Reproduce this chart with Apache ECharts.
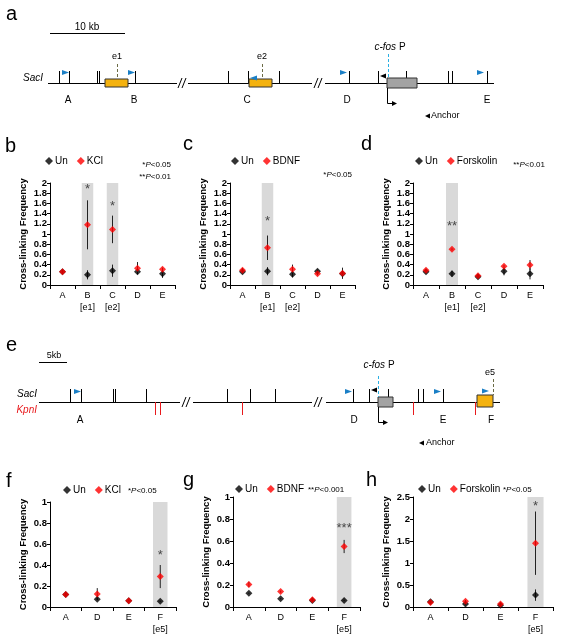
<!DOCTYPE html>
<html><head><meta charset="utf-8">
<script src="https://cdn.jsdelivr.net/npm/echarts@6/dist/echarts.min.js"></script>
<style>html,body{margin:0;padding:0;background:#fff}#c{width:562px;height:640px}</style>
</head><body><div id="c"></div>
<script>
// ---------- DATA ----------
const catsTop = ['A', 'B', 'C', 'D', 'E'];
const subTop = ['', '[e1]', '[e2]', '', ''];
const catsBot = ['A', 'D', 'E', 'F'];
const subBot = ['', '', '', '[e5]'];

// panel b (KCl)
const unB = [0.26, 0.20, 0.28, 0.26, 0.22];
const unErrB = [0.02, 0.09, 0.12, 0.04, 0.08];
const kclB = [0.26, 1.18, 1.09, 0.33, 0.31];
const kclErrB = [0.04, 0.48, 0.27, 0.12, 0.03];
const shadeB = [0, 1, 1, 0, 0];
const starB = ['', '*', '*', '', ''];
const starYB = [null, 1.88, 1.55, null, null];

// panel c (BDNF)
const unC = [0.26, 0.27, 0.21, 0.27, 0.22];
const unErrC = [0.03, 0.08, 0.06, 0.03, 0.04];
const bdnfC = [0.29, 0.73, 0.31, 0.22, 0.23];
const bdnfErrC = [0.04, 0.24, 0.09, 0.03, 0.11];
const shadeC = [0, 1, 0, 0, 0];
const starC = ['', '*', '', '', ''];
const starYC = [null, 1.24, null, null, null];

// panel d (Forskolin)
const unD = [0.26, 0.22, 0.16, 0.27, 0.22];
const unErrD = [0.03, 0.06, 0.03, 0.08, 0.11];
const fskD = [0.29, 0.70, 0.18, 0.37, 0.39];
const fskErrD = [0.02, 0.02, 0.03, 0.02, 0.10];
const shadeD = [0, 1, 0, 0, 0];
const starD = ['', '**', '', '', ''];
const starYD = [null, 1.14, null, null, null];

// panel f (KCl)
const unF = [0.12, 0.075, 0.06, 0.055];
const unErrF = [0.01, 0.01, 0.005, 0.005];
const kclF = [0.12, 0.125, 0.06, 0.29];
const kclErrF = [0.02, 0.055, 0.005, 0.11];
const shadeF = [0, 0, 0, 1];
const starF = ['', '', '', '*'];
const starYF = [null, null, null, 0.49];

// panel g (BDNF)
const unG = [0.125, 0.075, 0.06, 0.06];
const unErrG = [0.005, 0.005, 0.005, 0.005];
const bdnfG = [0.205, 0.14, 0.065, 0.55];
const bdnfErrG = [0.025, 0.01, 0.01, 0.06];
const shadeG = [0, 0, 0, 1];
const starG = ['', '', '', '***'];
const starYG = [null, null, null, 0.71];

// panel h (Forskolin)
const unH = [0.12, 0.07, 0.04, 0.27];
const unErrH = [0.03, 0.03, 0.02, 0.13];
const fskH = [0.10, 0.13, 0.07, 1.45];
const fskErrH = [0.02, 0.03, 0.02, 0.72];
const shadeH = [0, 0, 0, 1];
const starH = ['', '', '', '*'];
const starYH = [null, null, null, 2.28];

// ---------- LAYOUT ----------
const FF = '"Liberation Sans", Arial, sans-serif';
const panels = [
  {cats: catsTop, sub: subTop, un: unB, unErr: unErrB, tr: kclB, trErr: kclErrB, trName: 'KCl', max: 2, interval: 0.2, shade: shadeB, star: starB, starY: starYB,
   grid: {left: 50, top: 183, width: 125, height: 102}, legend: {left: 45, top: 156}},
  {cats: catsTop, sub: subTop, un: unC, unErr: unErrC, tr: bdnfC, trErr: bdnfErrC, trName: 'BDNF', max: 2, interval: 0.2, shade: shadeC, star: starC, starY: starYC,
   grid: {left: 230, top: 183, width: 125, height: 102}, legend: {left: 231, top: 156}},
  {cats: catsTop, sub: subTop, un: unD, unErr: unErrD, tr: fskD, trErr: fskErrD, trName: 'Forskolin', max: 2, interval: 0.2, shade: shadeD, star: starD, starY: starYD,
   grid: {left: 413, top: 183, width: 130, height: 102}, legend: {left: 415, top: 156}},
  {cats: catsBot, sub: subBot, un: unF, unErr: unErrF, tr: kclF, trErr: kclErrF, trName: 'KCl', max: 1, interval: 0.2, shade: shadeF, star: starF, starY: starYF,
   grid: {left: 50, top: 502, width: 126, height: 105}, legend: {left: 63, top: 485}},
  {cats: catsBot, sub: subBot, un: unG, unErr: unErrG, tr: bdnfG, trErr: bdnfErrG, trName: 'BDNF', max: 1, interval: 0.2, shade: shadeG, star: starG, starY: starYG,
   grid: {left: 233, top: 497, width: 127, height: 110}, legend: {left: 235, top: 484}},
  {cats: catsBot, sub: subBot, un: unH, unErr: unErrH, tr: fskH, trErr: fskErrH, trName: 'Forskolin', max: 2.5, interval: 0.5, shade: shadeH, star: starH, starY: starYH,
   grid: {left: 413, top: 497, width: 140, height: 110}, legend: {left: 418, top: 484}}
];

const grids = [], xAxes = [], yAxes = [], series = [], legends = [];
function errRender(params, api) {
  const x = api.value(0), lo = api.value(1), hi = api.value(2);
  const p1 = api.coord([x, lo]), p2 = api.coord([x, hi]);
  return {type: 'line', shape: {x1: p1[0], y1: p1[1], x2: p2[0], y2: p2[1]}, style: {stroke: '#222', lineWidth: 1}};
}
panels.forEach((p, i) => {
  grids.push(Object.assign({containLabel: false}, p.grid));
  xAxes.push({
    type: 'category', gridIndex: i, data: p.cats, boundaryGap: true,
    axisLine: {lineStyle: {color: '#000', width: 1}},
    axisTick: {show: true, length: 4, lineStyle: {color: '#000'}},
    axisLabel: {color: '#000', fontFamily: FF, fontSize: 9, margin: 5, lineHeight: 12,
      formatter: (v, j) => p.sub[j] ? v + '\n' + p.sub[j] : v}
  });
  yAxes.push({
    type: 'value', gridIndex: i, min: 0, max: p.max, interval: p.interval,
    name: 'Cross-linking Frequency', nameLocation: 'middle', nameGap: 22,
    nameTextStyle: {color: '#000', fontFamily: FF, fontSize: 9.5, fontWeight: 'bold'},
    axisLine: {show: true, lineStyle: {color: '#000', width: 1}},
    axisTick: {show: true, length: 3, lineStyle: {color: '#000'}},
    splitLine: {show: false},
    axisLabel: {color: '#000', fontFamily: FF, fontSize: 9.5, fontWeight: 'bold', margin: 3}
  });
  series.push({
    type: 'bar', xAxisIndex: i, yAxisIndex: i, silent: true, barWidth: '46%',
    data: p.shade.map(s => s ? p.max : '-'), itemStyle: {color: '#d9d9d9'}, z: 1
  });
  series.push({
    type: 'custom', xAxisIndex: i, yAxisIndex: i, silent: true, renderItem: errRender, z: 2,
    encode: {x: 0, y: [1, 2]},
    data: p.un.map((v, j) => [j, v - p.unErr[j], v + p.unErr[j]])
  });
  series.push({
    type: 'custom', xAxisIndex: i, yAxisIndex: i, silent: true, renderItem: errRender, z: 2,
    encode: {x: 0, y: [1, 2]},
    data: p.tr.map((v, j) => [j, v - p.trErr[j], v + p.trErr[j]])
  });
  series.push({
    name: 'Un', type: 'scatter', xAxisIndex: i, yAxisIndex: i, symbol: 'diamond', symbolSize: 7,
    itemStyle: {color: '#000'}, data: p.un, z: 3
  });
  series.push({
    name: p.trName, type: 'scatter', xAxisIndex: i, yAxisIndex: i, symbol: 'diamond', symbolSize: 7,
    itemStyle: {color: '#ff0000'}, data: p.tr, z: 4
  });
  series.push({
    type: 'scatter', xAxisIndex: i, yAxisIndex: i, symbolSize: 0, silent: true, z: 5,
    data: p.starY.map((y, j) => y == null ? '-' : y),
    label: {show: true, position: 'inside', color: '#222', fontFamily: FF, fontSize: 13,
      formatter: (d) => p.star[d.dataIndex]}
  });
  legends.push({
    left: p.legend.left, top: p.legend.top, data: ['Un', p.trName], icon: 'diamond',
    itemWidth: 8, itemHeight: 8, itemGap: 9, padding: 0,
    textStyle: {color: '#000', fontFamily: FF, fontSize: 10, padding: [0, 0, 0, -3]}
  });
});

// ---------- SCHEMATICS (graphic) ----------
const G = [];
function line(x1, y1, x2, y2, stroke, w, dash) {
  G.push({type: 'line', silent: true, shape: {x1, y1, x2, y2}, style: {stroke: stroke || '#000', lineWidth: w || 1, lineDash: dash || null}});
}
function rect(x, y, w, h, fill) {
  G.push({type: 'rect', silent: true, shape: {x, y, width: w, height: h}, style: {fill, stroke: '#333', lineWidth: 1}});
}
function poly(pts, fill) {
  G.push({type: 'polygon', silent: true, shape: {points: pts}, style: {fill}});
}
function polyline(pts, stroke) {
  G.push({type: 'polyline', silent: true, shape: {points: pts}, style: {stroke: stroke || '#000', lineWidth: 1, fill: null}});
}
function text(x, y, t, o) {
  G.push({type: 'text', silent: true, x, y, style: Object.assign({text: t, fill: '#000', fontSize: 10, fontFamily: FF,
    textAlign: 'center', textVerticalAlign: 'middle', verticalAlign: 'middle'}, o || {})});
}
const BLUE = '#1a7fc6', CYAN = '#2ab0e4', OLIVE = '#6b6b45', YEL = '#f4b20f', GRAY = '#a3a3a3', RED = '#e8191c';
function flagR(x, y) { poly([[x, y - 2.5], [x + 7, y], [x, y + 2.5]], BLUE); }
function flagL(x, y) { poly([[x, y - 2.5], [x - 7, y], [x, y + 2.5]], BLUE); }
function brk(x, y) { line(x, y + 5, x + 4, y - 5); line(x + 4, y + 5, x + 8, y - 5); }

// Panel a
text(6, 14, 'a', {fontSize: 20, textAlign: 'left'});
line(50, 33.5, 125, 33.5, '#000', 1);
text(87, 27, '10 kb', {fontSize: 10});
text(43, 78, 'SacI', {fontSize: 10, fontStyle: 'italic', textAlign: 'right'});
[[48, 177], [188, 312], [325, 494]].forEach(s => line(s[0], 83.5, s[1], 83.5));
brk(178, 83); brk(314, 83);
[59, 69, 97, 99, 135, 228, 248, 279, 349, 378, 406, 448, 452, 487].forEach(x => line(x + 0.5, 71, x + 0.5, 83));
line(117.5, 64, 117.5, 79, OLIVE, 1, [3, 2]);
line(262.5, 64, 262.5, 79, OLIVE, 1, [3, 2]);
rect(105, 79, 23, 8, YEL);
rect(249, 79, 23, 8, YEL);
rect(387, 78, 30, 10, GRAY);
line(388.5, 54, 388.5, 78, CYAN, 1, [3, 2]);
text(117, 57, 'e1', {fontSize: 9});
text(262, 57, 'e2', {fontSize: 9});
text(390, 47, '{i|c-fos} P', {fontSize: 10, rich: {i: {fontStyle: 'italic', fontSize: 10, fontFamily: FF}}});
flagR(62, 72.5); flagR(128, 72.5); flagL(257, 78); flagR(340, 72.5); flagR(477, 72.5);
poly([[386, 73.5], [380, 76], [386, 78.5]], '#000');
polyline([[387.5, 88], [387.5, 103.5], [393, 103.5]]);
poly([[392, 101], [397, 103.5], [392, 106]], '#000');
[['A', 68], ['B', 134], ['C', 247], ['D', 347], ['E', 487]].forEach(l => text(l[1], 100, l[0], {fontSize: 10}));
poly([[430, 113.5], [425, 116], [430, 118.5]], '#000');
text(431, 116, 'Anchor', {fontSize: 9, textAlign: 'left'});

// Panel e
text(6, 345, 'e', {fontSize: 20, textAlign: 'left'});
line(39, 362.5, 67, 362.5, '#000', 1);
text(54, 356, '5kb', {fontSize: 9});
text(37, 394, 'SacI', {fontSize: 10, fontStyle: 'italic', textAlign: 'right'});
text(37, 410, 'KpnI', {fontSize: 10, fontStyle: 'italic', textAlign: 'right', fill: RED});
[[39, 180], [193, 312], [326, 500]].forEach(s => line(s[0], 402.5, s[1], 402.5));
brk(182, 402); brk(314, 402);
[70, 81, 113, 115, 146, 227, 250, 275, 353, 369, 388, 418, 423, 443].forEach(x => line(x + 0.5, 389, x + 0.5, 402));
[155, 160, 242, 413, 475].forEach(x => line(x + 0.5, 402, x + 0.5, 415, RED));
rect(378, 397, 15, 10, GRAY);
rect(477, 395, 16, 12, YEL);
line(378.5, 376, 378.5, 397, CYAN, 1, [3, 2]);
line(493.5, 379, 493.5, 395, OLIVE, 1, [3, 2]);
text(490, 373, 'e5', {fontSize: 9});
text(379, 365, '{i|c-fos} P', {fontSize: 10, rich: {i: {fontStyle: 'italic', fontSize: 10, fontFamily: FF}}});
flagR(74, 391.5); flagR(345, 391.5); flagR(434, 391.5); flagR(482, 391);
poly([[377, 387.5], [371, 390], [377, 392.5]], '#000');
polyline([[378.5, 407], [378.5, 422.5], [384, 422.5]]);
poly([[383, 420], [388, 422.5], [383, 425]], '#000');
[['A', 80], ['D', 354], ['E', 443], ['F', 491]].forEach(l => text(l[1], 420, l[0], {fontSize: 10}));
poly([[424, 440.5], [419, 443], [424, 445.5]], '#000');
text(426, 443, 'Anchor', {fontSize: 9, textAlign: 'left'});

// panel letters & P-value notes
text(5, 146, 'b', {fontSize: 20, textAlign: 'left'});
text(183, 144, 'c', {fontSize: 20, textAlign: 'left'});
text(361, 144, 'd', {fontSize: 20, textAlign: 'left'});
text(6, 481, 'f', {fontSize: 20, textAlign: 'left'});
text(183, 480, 'g', {fontSize: 20, textAlign: 'left'});
text(366, 480, 'h', {fontSize: 20, textAlign: 'left'});
const PR = {i: {fontStyle: 'italic', fontSize: 8, fontFamily: FF}};
text(171, 165, '*{i|P}<0.05', {fontSize: 8, textAlign: 'right', rich: PR});
text(171, 177, '**{i|P}<0.01', {fontSize: 8, textAlign: 'right', rich: PR});
text(352, 175, '*{i|P}<0.05', {fontSize: 8, textAlign: 'right', rich: PR});
text(545, 165, '**{i|P}<0.01', {fontSize: 8, textAlign: 'right', rich: PR});
text(128, 491, '*{i|P}<0.05', {fontSize: 8, textAlign: 'left', rich: PR});
text(308, 490, '**{i|P}<0.001', {fontSize: 8, textAlign: 'left', rich: PR});
text(503, 490, '*{i|P}<0.05', {fontSize: 8, textAlign: 'left', rich: PR});

const chart = echarts.init(document.getElementById('c'), null, {renderer: 'canvas'});
chart.setOption({
  animation: false,
  backgroundColor: '#fff',
  grid: grids, xAxis: xAxes, yAxis: yAxes, series: series, legend: legends,
  graphic: {elements: G}
});
</script></body></html>
